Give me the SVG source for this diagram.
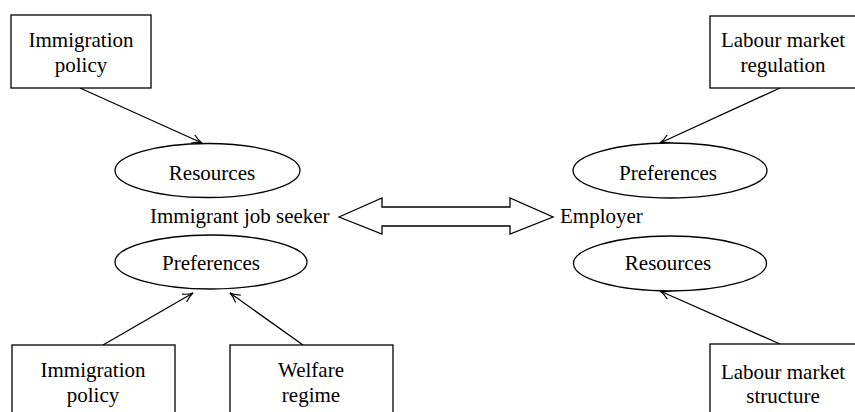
<svg xmlns="http://www.w3.org/2000/svg" width="855" height="412" viewBox="0 0 855 412">
<defs>
<style>
.box{fill:#fff;stroke:#000;stroke-width:1.3}
.ell{fill:#fff;stroke:#000;stroke-width:1.3}
.t{font-family:"Liberation Serif","Times New Roman",serif;font-size:21px;fill:#000;text-anchor:middle}
.tl{font-family:"Liberation Serif","Times New Roman",serif;font-size:21px;fill:#000}
.c{stroke:#000;stroke-width:1.3;fill:none;marker-end:url(#ah)}
</style>
<marker id="ah" viewBox="0 0 12 10" refX="11" refY="5" markerWidth="12" markerHeight="10" markerUnits="userSpaceOnUse" orient="auto">
<path d="M1,0.5 Q6,4 11,5 Q6,6 1,9.5" fill="none" stroke="#000" stroke-width="1.2"/>
</marker>
</defs>
<rect width="855" height="412" fill="#fff"/>
<g id="connectors">
<line class="c" x1="80" y1="88" x2="202" y2="143"/>
<line class="c" x1="780" y1="88" x2="660" y2="143"/>
<line class="c" x1="103" y1="345" x2="193" y2="293"/>
<line class="c" x1="303" y1="345" x2="230" y2="293"/>
<line class="c" x1="780" y1="344" x2="660" y2="291"/>
<polygon points="339,217 382,198 382,207 510,207 510,198 553,217 510,234 510,226 382,226 382,234" fill="#fff" stroke="#000" stroke-width="1.3"/>
</g>
<g id="imm-policy-top">
<rect class="box" x="11" y="15" width="140" height="73"/>
<text class="t" x="81" y="47">Immigration</text>
<text class="t" x="81" y="72">policy</text>
</g>
<g id="lab-reg">
<rect class="box" x="710" y="16" width="160" height="72"/>
<text class="t" x="783" y="47">Labour market</text>
<text class="t" x="783" y="72">regulation</text>
</g>
<g id="res-left">
<ellipse class="ell" cx="207.5" cy="170.5" rx="92.5" ry="27"/>
<text class="t" x="212" y="180">Resources</text>
</g>
<g id="pref-right">
<ellipse class="ell" cx="670" cy="170.5" rx="97" ry="27.5"/>
<text class="t" x="668" y="180">Preferences</text>
</g>
<g id="seeker">
<text class="tl" x="150" y="223">Immigrant job seeker</text>
</g>
<g id="employer">
<text class="tl" x="560" y="223">Employer</text>
</g>
<g id="pref-left">
<ellipse class="ell" cx="211" cy="262" rx="96" ry="27"/>
<text class="t" x="211" y="270">Preferences</text>
</g>
<g id="res-right">
<ellipse class="ell" cx="670" cy="263.5" rx="96.5" ry="27.5"/>
<text class="t" x="668" y="270">Resources</text>
</g>
<g id="imm-policy-bottom">
<rect class="box" x="12" y="345" width="163" height="80"/>
<text class="t" x="93" y="377">Immigration</text>
<text class="t" x="93" y="402">policy</text>
</g>
<g id="welfare">
<rect class="box" x="230" y="345" width="163" height="80"/>
<text class="t" x="311" y="377">Welfare</text>
<text class="t" x="311" y="402">regime</text>
</g>
<g id="lab-struct">
<rect class="box" x="710" y="344" width="160" height="80"/>
<text class="t" x="783" y="379">Labour market</text>
<text class="t" x="783" y="403">structure</text>
</g>
</svg>
